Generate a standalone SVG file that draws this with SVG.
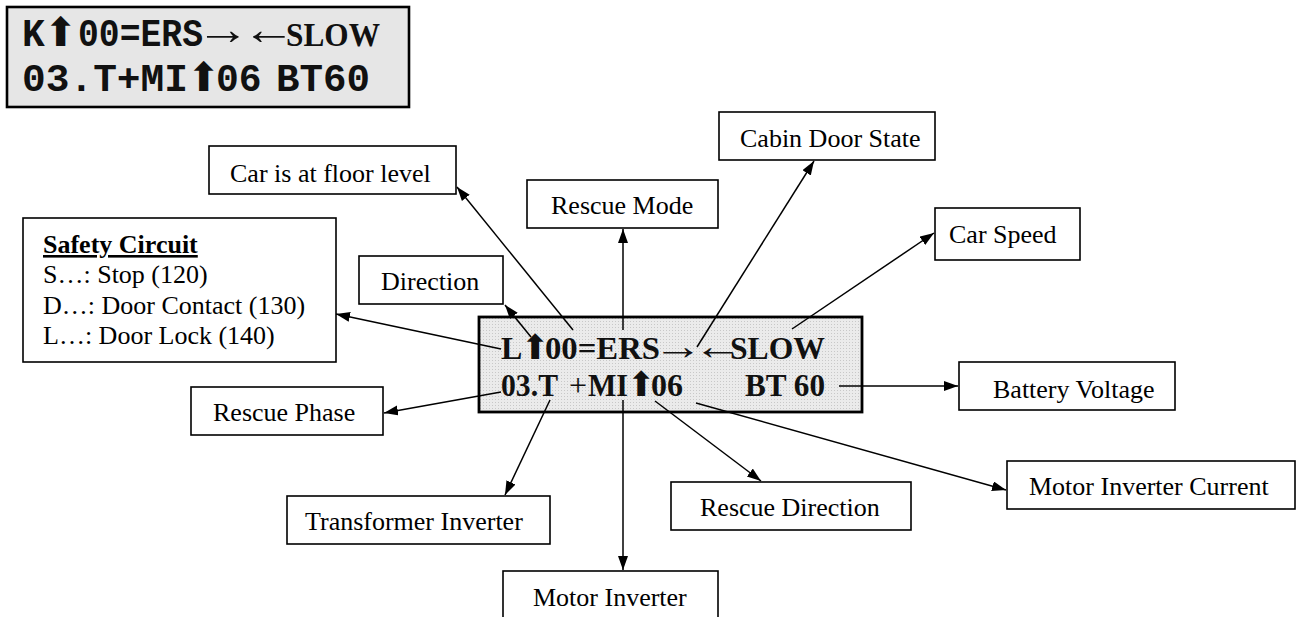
<svg xmlns="http://www.w3.org/2000/svg" width="1299" height="617" viewBox="0 0 1299 617">
<defs>
<style>
.box{fill:#fff;stroke:#000;stroke-width:1.6}
.lbl{font-family:"Liberation Serif","Times New Roman",serif;font-size:26px;fill:#000}
.mono{font-family:"Liberation Mono","Courier New",monospace;font-weight:bold;font-size:38px;fill:#111}
.ser{font-family:"Liberation Serif","Times New Roman",serif;fill:#111}
.b{font-weight:bold}
.up{font-family:"DejaVu Sans",sans-serif;fill:#111;font-weight:normal}
.con{stroke:#000;stroke-width:1.5;fill:none;marker-end:url(#ah)}
</style>
<marker id="ah" markerUnits="userSpaceOnUse" markerWidth="15" markerHeight="11" refX="14" refY="5" orient="auto">
<path d="M0,0 L14,5 L0,10 z" fill="#000"/>
</marker>
<pattern id="dots" width="3" height="3" patternUnits="userSpaceOnUse">
<rect width="3" height="3" fill="#ebebeb"/>
<rect width="1" height="1" fill="#c8c8c8"/>
</pattern>
</defs>
<rect width="1299" height="617" fill="#fff"/>

<g id="lcd-top">
<rect x="7" y="7" width="402" height="100" fill="#e6e6e6" stroke="#000" stroke-width="2.6"/>
<text class="mono" x="22" y="46">K</text>
<text class="up" x="44" y="46" font-size="40">⬆</text>
<text class="mono" x="78" y="46" textLength="125" lengthAdjust="spacingAndGlyphs">00=ERS</text>
<text class="ser" font-size="44" transform="translate(196,44) scale(1.22,1)">→</text>
<text class="ser" font-size="44" transform="translate(242,44) scale(1.22,1)">←</text>
<text class="ser b" x="286" y="46" font-size="34" textLength="94" lengthAdjust="spacingAndGlyphs">SLOW</text>
<text class="mono" x="22" y="91" textLength="166" lengthAdjust="spacingAndGlyphs">03.T+MI</text>
<text class="up" x="187" y="91" font-size="40">⬆</text>
<text class="mono" x="216" y="91">06</text>
<text class="mono" x="276" y="91" textLength="94" lengthAdjust="spacingAndGlyphs">BT60</text>
</g>

<g id="lcd-center">
<rect x="479" y="317" width="383" height="95" fill="url(#dots)" stroke="#000" stroke-width="2.8"/>
<text class="ser b" x="501" y="359" font-size="32">L</text>
<text class="up" x="521" y="359" font-size="34">⬆</text>
<text class="ser b" x="545" y="359" font-size="32" textLength="115" lengthAdjust="spacingAndGlyphs">00=ERS</text>
<text class="ser" font-size="38" transform="translate(653,359) scale(1.3,1)">→</text>
<text class="ser" font-size="38" transform="translate(693,359) scale(1.3,1)">←</text>
<text class="ser b" x="730" y="359" font-size="32" textLength="95" lengthAdjust="spacingAndGlyphs">SLOW</text>
<text class="ser b" x="501" y="396" font-size="32" textLength="57" lengthAdjust="spacingAndGlyphs">03.T</text>
<text class="ser" x="569" y="396" font-size="32">+</text>
<text class="ser b" x="588" y="396" font-size="32" textLength="40" lengthAdjust="spacingAndGlyphs">MI</text>
<text class="up" x="627" y="396" font-size="34">⬆</text>
<text class="ser b" x="651" y="396" font-size="32">06</text>
<text class="ser b" x="745" y="396" font-size="32" textLength="80" lengthAdjust="spacingAndGlyphs">BT 60</text>
</g>

<g id="connectors">
<line class="con" x1="501" y1="349" x2="336" y2="314"/>
<line class="con" x1="531" y1="337" x2="505" y2="305"/>
<line class="con" x1="573" y1="330" x2="457" y2="187"/>
<line class="con" x1="623" y1="330" x2="623" y2="229"/>
<line class="con" x1="697" y1="347" x2="814" y2="161"/>
<line class="con" x1="792" y1="329" x2="934" y2="233"/>
<line class="con" x1="839" y1="386" x2="958" y2="386"/>
<line class="con" x1="501" y1="392" x2="384" y2="413"/>
<line class="con" x1="550" y1="400" x2="505" y2="495"/>
<line class="con" x1="623" y1="400" x2="623" y2="570"/>
<line class="con" x1="655" y1="401" x2="761" y2="481"/>
<line class="con" x1="696" y1="403" x2="1006" y2="490"/>
</g>

<g id="safety-circuit">
<rect class="box" x="23" y="218" width="313" height="144"/>
<text class="lbl" x="43" y="253" font-weight="bold" text-decoration="underline">Safety Circuit</text>
<text class="lbl" x="43" y="283">S…: Stop (120)</text>
<text class="lbl" x="43" y="314">D…: Door Contact (130)</text>
<text class="lbl" x="43" y="344">L…: Door Lock (140)</text>
</g>
<g id="car-floor">
<rect class="box" x="209" y="146" width="247" height="48"/>
<text class="lbl" x="230" y="182">Car is at floor level</text>
</g>
<g id="rescue-mode">
<rect class="box" x="527" y="180" width="191" height="48"/>
<text class="lbl" x="551" y="214">Rescue Mode</text>
</g>
<g id="cabin-door">
<rect class="box" x="719" y="112" width="216" height="48"/>
<text class="lbl" x="740" y="147">Cabin Door State</text>
</g>
<g id="car-speed">
<rect class="box" x="935" y="208" width="145" height="52"/>
<text class="lbl" x="949" y="243">Car Speed</text>
</g>
<g id="direction">
<rect class="box" x="359" y="256" width="144" height="48"/>
<text class="lbl" x="381" y="290">Direction</text>
</g>
<g id="battery">
<rect class="box" x="959" y="362" width="216" height="48"/>
<text class="lbl" x="993" y="398">Battery Voltage</text>
</g>
<g id="rescue-phase">
<rect class="box" x="191" y="387" width="192" height="48"/>
<text class="lbl" x="213" y="421">Rescue Phase</text>
</g>
<g id="transformer">
<rect class="box" x="287" y="496" width="263" height="48"/>
<text class="lbl" x="305" y="530">Transformer Inverter</text>
</g>
<g id="rescue-direction">
<rect class="box" x="671" y="482" width="240" height="48"/>
<text class="lbl" x="700" y="516">Rescue Direction</text>
</g>
<g id="motor-current">
<rect class="box" x="1007" y="461" width="288" height="48"/>
<text class="lbl" x="1029" y="495">Motor Inverter Current</text>
</g>
<g id="motor-inverter">
<rect class="box" x="503" y="571" width="215" height="60"/>
<text class="lbl" x="533" y="606">Motor Inverter</text>
</g>
</svg>
